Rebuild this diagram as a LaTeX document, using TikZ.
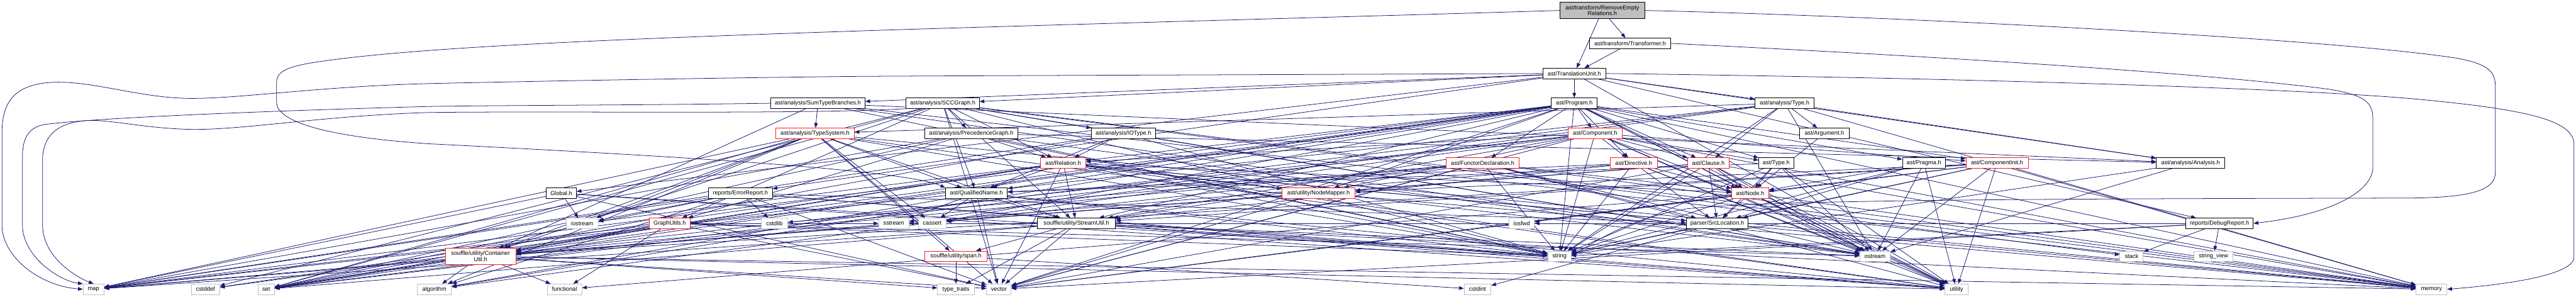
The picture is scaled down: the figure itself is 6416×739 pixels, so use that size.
\documentclass[tikz,border=0pt]{standalone}
\usepackage{fontspec}
\setmainfont{Liberation Sans}
\usetikzlibrary{arrows.meta}
\definecolor{edgeblue}{HTML}{191970}
\definecolor{stdgray}{HTML}{BFBFBF}
\definecolor{truncred}{HTML}{FF2020}
\pgfdeclarelayer{bg}
\pgfsetlayers{bg,main}
\tikzset{
  nbox/.style={draw, fill=white, line width=1.3pt, inner sep=0pt, minimum height=26pt,
    font=\fontsize{14.5}{15}\selectfont, align=center},
  hdr/.style={nbox, draw=black},
  trunc/.style={nbox, draw=truncred},
  sys/.style={nbox, draw=stdgray},
  topn/.style={nbox, draw=black, fill=stdgray, minimum height=40pt},
  dep/.style={draw=edgeblue, line width=1.2pt, -{Triangle[length=12pt,width=9pt]}},
}
\begin{document}
\begin{tikzpicture}[x=1pt,y=-1pt]
\useasboundingbox (0,0) rectangle (6416,739);
% rows
\node[topn, minimum width=210pt] (rer) at (3991,26) {ast/transform/RemoveEmpty\\Relations.h};
\node[hdr, minimum width=202pt] (trf) at (4060,108) {ast/transform/Transformer.h};
\node[hdr, minimum width=156pt] (tu) at (3921,183) {ast/TranslationUnit.h};
\node[hdr, minimum width=235pt] (stb) at (2037,257) {ast/analysis/SumTypeBranches.h};
\node[hdr, minimum width=182pt] (scc) at (2348,257) {ast/analysis/SCCGraph.h};
\node[hdr, minimum width=114pt] (prog) at (3921,257) {ast/Program.h};
\node[hdr, minimum width=147pt] (atype) at (4445,257) {ast/analysis/Type.h};
\node[trunc, minimum width=195pt] (ts) at (2030,332) {ast/analysis/TypeSystem.h};
\node[hdr, minimum width=231pt] (pg) at (2419,332) {ast/analysis/PrecedenceGraph.h};
\node[hdr, minimum width=159pt] (iot) at (2798,332) {ast/analysis/IOType.h};
\node[trunc, minimum width=134pt] (comp) at (3973,332) {ast/Component.h};
\node[hdr, minimum width=123pt] (arg) at (4544,332) {ast/Argument.h};
\node[trunc, minimum width=112pt] (rel) at (2648,406) {ast/Relation.h};
\node[trunc, minimum width=182pt] (fd) at (3693,406) {ast/FunctorDeclaration.h};
\node[trunc, minimum width=118pt] (dir) at (4069,406) {ast/Directive.h};
\node[trunc, minimum width=102pt] (cl) at (4255,406) {ast/Clause.h};
\node[hdr, minimum width=87pt] (ty) at (4424,406) {ast/Type.h};
\node[hdr, minimum width=107pt] (pr) at (4792,406) {ast/Pragma.h};
\node[trunc, minimum width=155pt] (ci) at (4974,406) {ast/ComponentInit.h};
\node[hdr, minimum width=170pt] (an) at (5456,406) {ast/analysis/Analysis.h};
\node[hdr, minimum width=75pt] (gl) at (1398,481) {Global.h};
\node[hdr, minimum width=159pt] (er) at (1844,481) {reports/ErrorReport.h};
\node[hdr, minimum width=154pt] (qn) at (2432,481) {ast/QualifiedName.h};
\node[trunc, minimum width=182pt] (nm) at (3284,481) {ast/utility/NodeMapper.h};
\node[trunc, minimum width=92pt] (nd) at (4359,481) {ast/Node.h};
\node[sys, minimum width=80pt] (ios) at (1450,556) {iostream};
\node[trunc, minimum width=102pt] (gu) at (1668,556) {GraphUtils.h};
\node[sys, minimum width=66pt] (cstdlib) at (1929,556) {cstdlib};
\node[sys, minimum width=75pt] (sstream) at (2226,556) {sstream};
\node[sys, minimum width=70pt] (cassert) at (2322,556) {cassert};
\node[hdr, minimum width=194pt] (su) at (2681,556) {souffle/utility/StreamUtil.h};
\node[sys, minimum width=63pt] (iosfwd) at (3790,556) {iosfwd};
\node[hdr, minimum width=154pt] (sl) at (4277,556) {parser/SrcLocation.h};
\node[hdr, minimum width=168pt] (dr) at (5528,556) {reports/DebugReport.h};
\node[trunc, minimum width=175pt, minimum height=40pt] (cu) at (1197,638) {souffle/utility/Container\\Util.h};
\node[trunc, minimum width=154pt] (span) at (2381,638) {souffle/utility/span.h};
\node[sys, minimum width=58pt] (str) at (3884,638) {string};
\node[sys, minimum width=75pt] (ost) at (4670,638) {ostream};
\node[sys, minimum width=58pt] (stk) at (5309,638) {stack};
\node[sys, minimum width=97pt] (sv) at (5513,638) {string\_view};
\node[sys, minimum width=52pt] (hmap) at (233,720) {map};
\node[sys, minimum width=70pt] (cdef) at (512,720) {cstddef};
\node[sys, minimum width=41pt] (hset) at (663,720) {set};
\node[sys, minimum width=85pt] (alg) at (1082,720) {algorithm};
\node[sys, minimum width=86pt] (func) at (1406,720) {functional};
\node[sys, minimum width=92pt] (tt) at (2381,720) {type\_traits};
\node[sys, minimum width=61pt] (vec) at (2488,720) {vector};
\node[sys, minimum width=67pt] (cint) at (3680,720) {cstdint};
\node[sys, minimum width=58pt] (util) at (4873,720) {utility};
\node[sys, minimum width=77pt] (mem) at (6056,720) {memory};

\begin{pgfonlayer}{bg}
\fill[white] (0,0) rectangle (6416,739);
\foreach \s/\tl in {
  rer/{trf,tu},
  trf/{tu},
  tu/{prog,stb,scc,atype,gl,er,an,util,dr},
  stb/{ts,cu,an,mem,ost,str},
  scc/{pg,iot,gu,rel,qn,cu,su,cdef,hset,stk,str,vec,mem,ost},
  prog/{cl,comp,ci,dir,fd,nd,pr,qn,rel,ty,nm,cu,su,alg,cassert,cdef,hmap,mem,ost,hset,str,util,vec},
  atype/{arg,ts,cl,an,hmap,mem,ost,hset,sstream,str},
  ts/{qn,cu,su,span,alg,cassert,ios,hmap,mem,hset,str,util,vec},
  pg/{gu,rel,an,ost,hset,str,hmap},
  iot/{rel,qn,ost,hset,str,hmap},
  comp/{cl,ci,dir,nd,rel,ty,nm,cu,su,alg,mem,ost,hset,str,util,vec},
  arg/{nd},
  rel/{nd,qn,nm,sl,cu,su,cdef,ios,mem,ost,hset,str,util,vec},
  fd/{nd,sl,cu,su,cassert,cstdlib,mem,ost,str,util,vec},
  dir/{nd,qn,sl,su,hmap,ost,str,util},
  cl/{nd,nm,sl,cu,mem,ost,str,util,vec},
  ty/{nd,qn,sl,str,util,ost},
  pr/{nd,sl,ost,str,util},
  ci/{nd,nm,sl,cu,su,mem,ost,str,util,vec},
  an/{ost,str},
  gl/{ios,hmap,str,util,vec},
  er/{sl,alg,cstdlib,ios,hset,str,util,vec,hmap},
  qn/{su,alg,sstream,cassert,str,util,vec},
  nm/{cu,mem,vec},
  nd/{sl,func,iosfwd,mem,ost,str,util,vec},
  gu/{cu,func,hmap,ost,hset,sstream,str,vec},
  sl/{iosfwd,str,cint},
  dr/{sv,stk,sstream,str,vec},
  su/{span,tt,hmap,mem,ost,hset,str,util,vec},
  span/{tt,cint},
  cu/{alg,func,hmap,mem,hset,tt,util,vec}%
}{\foreach \t in \tl {\draw[dep] (\s) -- (\t);}}
% long routed connectors
\draw[dep] (rer.west) .. controls (3500,38) and (2600,62) .. (2140,77)
  .. controls (1700,92) and (1100,112) .. (820,150)
  .. controls (720,163) and (689,175) .. (689,205) -- (689,255)
  .. controls (689,300) and (800,340) .. (1070,358)
  .. controls (1600,385) and (2250,420) .. (qn.north west);
\draw[dep] (rer.east) .. controls (4700,40) and (5800,95) .. (6120,145)
  .. controls (6200,160) and (6215,180) .. (6215,215) -- (6215,430)
  .. controls (6215,475) and (6150,492) .. (6000,493)
  .. controls (5200,495) and (4400,496) .. (4200,520)
  .. controls (4050,545) and (3960,610) .. (str.east);
\draw[dep] (trf.east) .. controls (4500,125) and (5400,170) .. (5800,222)
  .. controls (5885,236) and (5910,252) .. (5910,295) -- (5910,420)
  .. controls (5905,480) and (5800,535) .. (dr.east);
\draw[dep] (tu.east) .. controls (4600,190) and (5600,212) .. (6000,245)
  .. controls (6300,272) and (6411,300) .. (6411,360) -- (6411,640)
  .. controls (6411,690) and (6200,712) .. (mem.east);
\draw[dep] (tu.west) .. controls (3400,185) and (2500,188) .. (2140,190)
  .. controls (1700,195) and (1300,203) .. (1070,208)
  .. controls (800,215) and (600,245) .. (478,245)
  .. controls (350,245) and (230,200) .. (130,205)
  .. controls (40,210) and (5,250) .. (5,330) -- (5,560)
  .. controls (5,640) and (100,712) .. (hmap.west);
\draw[dep] (stb.west) .. controls (1600,262) and (1250,262) .. (1070,265)
  .. controls (700,275) and (250,292) .. (110,310)
  .. controls (70,318) and (56,345) .. (56,390) -- (56,560)
  .. controls (56,640) and (150,700) .. (hmap.north west);
\draw[dep] (scc.south west) .. controls (2000,285) and (1400,276) .. (1070,280)
  .. controls (800,288) and (600,325) .. (470,322)
  .. controls (350,318) and (280,298) .. (218,300)
  .. controls (140,305) and (106,340) .. (106,400) -- (106,560)
  .. controls (106,640) and (190,690) .. (hmap.north);
\end{pgfonlayer}
\end{tikzpicture}
\end{document}
